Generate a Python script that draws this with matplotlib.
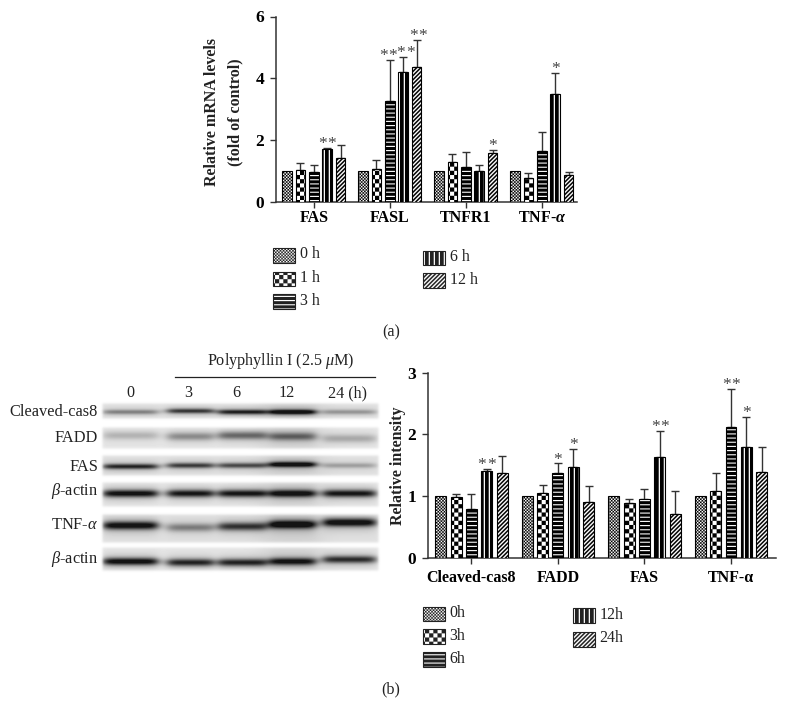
"""Two-panel figure: qPCR bars (a), western blot with densitometry bars (b)."""
import numpy as np
import matplotlib
matplotlib.use("Agg")
import matplotlib.pyplot as plt
from matplotlib import hatch as mhatch
from matplotlib.patches import Rectangle
from matplotlib.path import Path

W, H = 786, 722
plt.rcParams["font.family"] = ["Liberation Serif", "DejaVu Serif"]
plt.rcParams["mathtext.fontset"] = "custom"
plt.rcParams["mathtext.it"] = "Liberation Serif:italic"
plt.rcParams["mathtext.rm"] = "Liberation Serif"
plt.rcParams["mathtext.bf"] = "Liberation Serif:bold"
plt.rcParams["mathtext.bfit"] = "Liberation Serif:italic:bold"
plt.rcParams["hatch.linewidth"] = 0.05

# panel (a)
a_groups = ["FAS", "FASL", "TNFR1", r"TNF-$\mathbfit{\alpha}$"]
a_series = ["0 h", "1 h", "3 h", "6 h", "12 h"]
a_values = [[1.0, 1.03, 0.95, 1.72, 1.42],
            [1.0, 1.05, 3.25, 4.20, 4.35],
            [1.0, 1.30, 1.12, 1.00, 1.57],
            [1.0, 0.77, 1.65, 3.50, 0.85]]
a_tops = [[1.0, 1.25, 1.20, 1.75, 1.83],
          [1.0, 1.35, 4.58, 4.70, 5.25],
          [1.0, 1.55, 1.60, 1.18, 1.67],
          [1.0, 0.92, 2.27, 4.17, 0.95]]
a_stars = {(0, 3): ("**", 0), (1, 2): ("**", -1.5), (1, 3): ("**", 2.5), (1, 4): ("**", 1.5),
           (2, 4): ("*", 0), (3, 3): ("*", 0)}

# panel (b) bars
b_groups = ["Cleaved-cas8", "FADD", "FAS", "TNF-α"]
b_series = ["0h", "3h", "6h", "12h", "24h"]
b_values = [[1.0, 0.98, 0.80, 1.41, 1.38],
            [1.0, 1.06, 1.38, 1.48, 0.90],
            [1.0, 0.89, 0.95, 1.64, 0.71],
            [1.0, 1.08, 2.12, 1.79, 1.39]]
b_tops = [[1.0, 1.04, 1.03, 1.44, 1.65],
          [1.0, 1.18, 1.53, 1.76, 1.16],
          [1.0, 0.95, 1.11, 2.06, 1.08],
          [1.0, 1.38, 2.74, 2.28, 1.80]]
b_stars = {(0, 3): ("**", 0), (1, 2): ("*", 0), (1, 3): ("*", 0), (2, 3): ("**", 0),
           (3, 2): ("**", 0), (3, 3): ("*", 0)}

# blot: band darkness per lane
blot_rows = ["Cleaved-cas8", "FADD", "FAS", r"$\beta$-actin", r"TNF-$\alpha$", r"$\beta$-actin"]
blot_lanes = ["0", "3", "6", "12", "24 (h)"]
blot_dark = [[0.38, 0.68, 0.78, 0.95, 0.30],
             [0.20, 0.36, 0.50, 0.50, 0.24],
             [0.75, 0.66, 0.60, 0.95, 0.26],
             [0.88, 0.84, 0.84, 0.90, 0.84],
             [0.90, 0.40, 0.70, 0.98, 0.92],
             [0.90, 0.78, 0.78, 0.84, 0.74]]

PATTERNS = [".", "o", "-", "|", "/"]


# custom tile patterns, all drawn as filled polygons
class TileHatch(mhatch.HatchPatternBase):
    filled = True
    char = ""

    def __init__(self, hatch, density):
        self.active = self.char in (hatch or "")
        self.num_vertices = len(self.polys()) * 5 if self.active else 0

    def set_vertices_and_codes(self, vertices, codes):
        for i, poly in enumerate(self.polys()):
            vertices[i * 5:i * 5 + 4] = poly
            vertices[i * 5 + 4] = poly[0]
            codes[i * 5] = Path.MOVETO
            codes[i * 5 + 1:i * 5 + 4] = Path.LINETO
            codes[i * 5 + 4] = Path.CLOSEPOLY


def box(x0, y0, x1, y1):
    return [(x0, y0), (x1, y0), (x1, y1), (x0, y1)]


def checker_polys(n):
    s = 1.0 / n
    return [box(i * s, j * s, (i + 1) * s, (j + 1) * s)
            for i in range(n) for j in range(n) if (i + j) % 2 == 0]


class FineChecker(TileHatch):
    char = "."

    def polys(self):
        return checker_polys(64)


class BigChecker(TileHatch):
    char = "o"

    def polys(self):
        return checker_polys(24)


class HStripes(TileHatch):
    char = "-"

    def polys(self):
        n = 24
        return [box(0, i / n, 1, (i + 0.72) / n) for i in range(n)]


class VStripes(TileHatch):
    char = "|"

    def polys(self):
        n = 20
        return [box(i / n, 0, (i + 0.74) / n, 1) for i in range(n)]


class Diagonal(TileHatch):
    char = "/"

    def polys(self):
        n = 24
        s = 1.0 / n
        return [[(i * s, 0), ((i + 0.5) * s, 0), ((i + 0.5) * s + 1, 1), (i * s + 1, 1)]
                for i in range(-n - 1, n + 1)]


mhatch._hatch_types[:] = [FineChecker, BigChecker, HStripes, VStripes, Diagonal]


def soft_band(x, c, half, edge):
    return 0.5 * (np.tanh((x - c + half) / edge) - np.tanh((x - c - half) / edge))


def px_axes(fig, left, top, right, bottom, **kw):
    return fig.add_axes([left / W, 1 - bottom / H, (right - left) / W, (bottom - top) / H], **kw)


def bar_panel(fig, rect, values, tops, stars, groups, ymax, yticks, xlim, pitch, width, xpad):
    ax = px_axes(fig, *rect)
    for g, (vals, errs) in enumerate(zip(values, tops)):
        for s, (v, t) in enumerate(zip(vals, errs)):
            x = g + (s - 2) * pitch
            ax.bar(x, v, width, color="white", edgecolor="black", linewidth=0.8,
                   hatch=PATTERNS[s], zorder=3)
            if t > v:
                ax.errorbar(x, v, yerr=[[0], [t - v]], color="#333333", elinewidth=1.0,
                            capsize=2.6, capthick=1.0, zorder=2)
            if (g, s) in stars:
                count, dx = stars[(g, s)]
                # each star is its own text so the gap can be set in points
                offs = [-3.4, 3.4] if len(count) == 2 else [0]
                for off in offs:
                    ax.annotate("*", (x, t), xytext=(off + dx * 0.72, -3), textcoords="offset points",
                                ha="center", va="bottom", fontsize=12.5, color="#444444")
    ax.set_xlim(*xlim)
    ax.set_ylim(0, ymax)
    ax.set_yticks(yticks)
    ax.set_xticks(range(4))
    ax.set_xticklabels(groups, fontweight="bold", fontsize=11.5, va="baseline")
    ax.tick_params(axis="y", labelsize=12.5, length=4, width=1, color="#333333", pad=4.5)
    ax.tick_params(axis="x", length=4, width=1, color="#333333", pad=xpad)
    for lab in ax.get_yticklabels():
        lab.set_fontweight("bold")
    for side in ["top", "right"]:
        ax.spines[side].set_visible(False)
    for side in ["left", "bottom"]:
        ax.spines[side].set_color("#333333")
        ax.spines[side].set_linewidth(1.1)
    return ax


fig = plt.figure(figsize=(W / 100, H / 100), dpi=100)

bar_panel(fig, (276, 16.5, 577, 201.7), a_values, a_tops, a_stars, a_groups, 6, [0, 2, 4, 6],
          (-0.497, 3.463), 0.176, 0.125, 10.4)
bar_panel(fig, (428.3, 372.7, 776, 558), b_values, b_tops, b_stars, b_groups, 3, [0, 1, 2, 3],
          (-0.498, 3.52), 0.177, 0.127, 13)

# western blot
ys, xs = np.mgrid[395:575, 98:382]
blot = np.ones(xs.shape)
strips = [(403, 418), (427, 448), (455, 475), (482, 506), (514, 542), (547, 570)]
band_y = [411.5, 436, 465, 493, 525, 561]
band_h = [2.4, 4.0, 2.6, 3.6, 4.0, 3.6]
lane_x = [130, 190, 242, 292, 349]
lane_w = [27, 23, 24, 23, 26]
lane_dy = [[0, -1, 0, 0, 0], [-1, 0, -1, 0, 2], [1, 0, 0, -1, 0],
           [0, 0, 0, 0, 0], [0, 2, 1, -1, -3], [0, 1, 1, 0, -2]]
for r, (y0, y1) in enumerate(strips):
    strip = 0.90 - 0.02 * ((r + 1) % 2) - 0.05 * soft_band(xs, 292, 30, 12)
    img = strip.copy()
    for l, cx in enumerate(lane_x):
        prof_x = soft_band(xs, cx, lane_w[l], 6)
        d = (ys - band_y[r] - lane_dy[r][l]) / band_h[r]
        prof_y = 0.8 * np.exp(-d ** 2) + 0.2 * np.exp(-(d / 2.2) ** 2)
        img = img - blot_dark[r][l] * prof_x * prof_y
    mask = soft_band(ys, (y0 + y1) / 2, (y1 - y0) / 2, 1.5) * soft_band(xs, 240, 138, 1.5)
    blot = blot * (1 - mask) + np.clip(img, 0.08, 1) * mask

overlay = px_axes(fig, 0, 0, W, H)
overlay.set_xlim(0, W)
overlay.set_ylim(H, 0)
overlay.axis("off")
overlay.patch.set_alpha(0)
overlay.imshow(blot, cmap="gray", vmin=0, vmax=1, extent=(98, 382, 575, 395),
               aspect="auto", interpolation="bilinear")
overlay.set_xlim(0, W)
overlay.set_ylim(H, 0)

overlay.plot([175, 375], [377, 377], color="#222222", lw=0.9)
overlay.text(281, 361, r"Polyphyllin I (2.5 $\mu$M)", ha="center", va="center", fontsize=11.6, color="#222222")
for lab, x in zip(blot_lanes, [130.5, 188, 236.5, 287, 347]):
    overlay.text(x, 393, lab, ha="center", va="center", fontsize=11.6, color="#222222")
for lab, y in zip(blot_rows, [412, 438, 467, 491, 525, 559]):
    overlay.text(98, y, lab, ha="right", va="center", fontsize=11.8, color="#222222")

# axis titles
overlay.text(212, 112, "Relative mRNA levels", rotation=90, ha="center", va="center", fontsize=11.5, fontweight="bold", color="#222222")
overlay.text(235, 112, "(fold of control)", rotation=90, ha="center", va="center", fontsize=11.5, fontweight="bold", color="#222222")
overlay.text(398, 466, "Relative intensity", rotation=90, ha="center", va="center", fontsize=11.5, fontweight="bold", color="#222222")

# legends
a_swatch_y = [(248.3, 262.7), (271.7, 286), (294.3, 309.3), (250.7, 265), (273.3, 288)]
a_swatch_x = [(273.3, 295), (273.3, 295), (273.3, 295), (423.3, 445), (423.3, 445)]
b_swatch_y = [(606.7, 621), (629.3, 644.3), (652.3, 667.3), (608.3, 623.3), (631.7, 646.7)]
b_swatch_x = [(422.7, 444.7), (422.7, 444.7), (422.7, 444.7), (572.7, 595), (572.7, 595)]
for labels, sx, sy in [(a_series, a_swatch_x, a_swatch_y), (b_series, b_swatch_x, b_swatch_y)]:
    for i, lab in enumerate(labels):
        overlay.add_patch(Rectangle((sx[i][0], sy[i][0]), sx[i][1] - sx[i][0], sy[i][1] - sy[i][0],
                                    facecolor="white", edgecolor="#222222", linewidth=0.8, hatch=PATTERNS[i]))
        overlay.text(sx[i][1] + 4.5, (sy[i][0] + sy[i][1]) / 2 - 1, lab, ha="left", va="center",
                     fontsize=11.5, color="#222222")

overlay.text(391, 332.5, "(a)", ha="center", va="center", fontsize=11.6, color="#222222")
overlay.text(391, 689, "(b)", ha="center", va="center", fontsize=11.6, color="#222222")

fig.savefig("out.png", dpi=100, facecolor="white")
